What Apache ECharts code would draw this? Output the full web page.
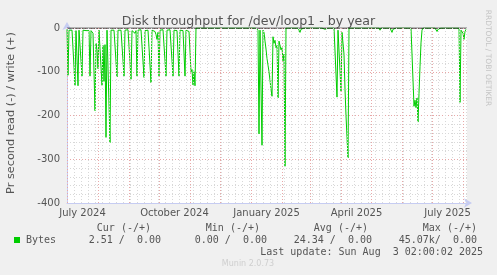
<!DOCTYPE html>
<html>
<head>
<meta charset="utf-8">
<script src="https://cdn.jsdelivr.net/npm/echarts@6/dist/echarts.min.js"></script>
<style>
html,body{margin:0;padding:0;background:#f0f0f0;}
#c{width:497px;height:275px;}
</style>
</head>
<body>
<div id="c"></div>
<script>
// ---- data (daily "read" bytes/s, negative side; write side is 0) ----
const readJunNov2024 = [
  -3,-108,-5,-4,-5,-5,-5,-6,-131,-6,
  -5,-132,-5,-4,-5,-110,-5,-4,-5,-6,
  -5,-6,-6,-110,-6,-5,-12,-8,-189,-35,
  -50,-93,-5,-4,-5,-131,-40,-122,-38,-250,
  -5,-4,-5,-262,-5,-4,-4,-5,-5,-6,
  -112,-5,-4,-5,-5,-6,-5,-110,-5,-4,
  -5,-4,-5,-8,-117,-6,-5,-6,-12,-6,
  -110,-5,-4,-5,-4,-5,-6,-113,-6,-5,
  -4,-5,-4,-6,-125,-5,-5,-4,-8,-15,
  -26,-10,-110,-5,-4,-5,-4,-5,-6,-110,
  -5,-4,-5,-4,-5,-6,-110,-5,-4,-5,
  -6,-5,-110,-5,-4,-5,-6,-5,-110,-5,
  -4,-6,-8,-10,-100,-95,-130,-100,-132,0
];
const readNovJan2025 = [
  0,0,0,0,0,0,0,0,0,0,
  0,0,0,0,0,0,0,0,0,0,
  0,0,0,0,0,0,0,0,0,0,
  0,0,0,0,0,0,0,0,0,0,
  0,0,0,0,0,0,0,0,0,0,
  0,0,0,0,0,0,0,0,0,0
];
const readJanFeb2025 = [
  0,-5,-242,-5,-5,-268,-5,-10,-30,-48,
  -70,-85,-100,-120,-140,-156,-20,-35,-28,-45,
  -40,-160,-30,-28,-50,-45,-75,-60,-316,0,
  0,0,0,0
];
const readFebMar2025 = [
  0,0,0,0,0,0,0,0,-3,-10,
  -3,0,0,0,0,0,0,0,0,0,
  0,0,0,0,0,0,0,0,0,0,
  0,0,0,0,-3,0,0,0,0,-3,
  0,0,0,0,0
];
const readMar2025 = [0,-158,-5,-5,-8,-145,-10,-12,-60,-140,-200,-250,-297,0];
const readMarMay2025 = [
  0,0,0,0,0,0,0,0,0,0,
  0,0,0,0,0,0,0,0,0,0,
  0,0,0,0,0,0,0,0,0,0,
  -5,0,0,0,0,0,0,0,0,0,
  0,-3,-10,-3,0,0,0,0,0,0,
  0,0,0,0,0,0,0,0,0,0,
  0,0,0
];
const readMay2025 = [0,-179,-165,-182,-160,-215,-150,-88,-34,-5,0];
const readJunJul2025 = [
  0,0,0,0,0,0,0,0,0,0,
  0,0,-3,-8,-3,0,0,0,0,0,
  0,0,0,0,0,0,0,0,0,0,
  0,0,0,0,0
];
const readJulAug2025 = [0,-170,-5,-3,-12,-26,-8,-3];

const xLabelTexts = ['July 2024','October 2024','January 2025','April 2025','July 2025'];
const xLabelDays  = ['2024-07-16','2024-10-16','2025-01-16','2025-04-16','2025-07-16'];
const yTicks = [0,-100,-200,-300,-400];

const legendHead = ['Cur (-/+)','Min (-/+)','Avg (-/+)','Max (-/+)'];
const legendVals = ['2.51 /  0.00','0.00 /  0.00','24.34 /  0.00','45.07k/  0.00'];

// ---- build ----
const DAY = 86400000;
const tMin = Date.UTC(2024,5,30,12,0,0);
const tMax = tMin + 400*DAY;
const readAll = [].concat(readJunNov2024, readNovJan2025, readJanFeb2025, readFebMar2025,
  readMar2025, readMarMay2025, readMay2025, readJunJul2025, readJulAug2025);
const readData = readAll.map((v,i)=>[tMin + i*DAY, v]);

const labelTimes = xLabelDays.map(d=>Date.parse(d+'T00:00:00Z'));

// grid lines: weekly (Mondays) minor, monthly major
const weekLines = [];
for (let t = Date.UTC(2024,6,1); t < tMax; t += 7*DAY) weekLines.push({xAxis: t});
const monthLines = [];
for (let m = 0; ; m++) {
  const t = Date.UTC(2024, 6 + m, 1);
  if (t > tMax) break;
  monthLines.push({xAxis: t});
}

const chart = echarts.init(document.getElementById('c'), null, {renderer:'canvas'});
const FONT = 'DejaVu Sans';
const AXIS = '#c6ccf2';

const graphics = [
  {type:'text', x:11, y:113, rotation:Math.PI/2,
   style:{text:'Pr second read (-) / write (+)', fill:'#555', font:'11.3px "DejaVu Sans"', textAlign:'center', textVerticalAlign:'middle'}},
  {type:'text', x:488, y:58, rotation:-Math.PI/2,
   style:{text:'RRDTOOL / TOBI OETIKER', fill:'#c4c4c4', font:'7.5px "DejaVu Sans"', textAlign:'center', textVerticalAlign:'middle'}},
  {type:'rect', shape:{x:14, y:237, width:6, height:6}, style:{fill:'#00cc00'}},
  {type:'text', x:26, y:240, style:{text:'Bytes', fill:'#555', font:'10px "DejaVu Sans Mono"', textAlign:'left', textVerticalAlign:'middle'}},
  {type:'text', x:483, y:252, style:{text:'Last update: Sun Aug  3 02:00:02 2025', fill:'#555', font:'10px "DejaVu Sans Mono"', textAlign:'right', textVerticalAlign:'middle'}},
  {type:'text', x:248, y:264, style:{text:'Munin 2.0.73', fill:'#cfcfcf', font:'8px "DejaVu Sans"', textAlign:'center', textVerticalAlign:'middle'}}
];
const headRight = [151,260,368,477];
const valRight = [161,267,372,477];
legendHead.forEach((s,i)=>graphics.push({type:'text', x:headRight[i], y:228,
  style:{text:s, fill:'#555', font:'10px "DejaVu Sans Mono"', textAlign:'right', textVerticalAlign:'middle'}}));
legendVals.forEach((s,i)=>graphics.push({type:'text', x:valRight[i], y:240,
  style:{text:s, fill:'#555', font:'10px "DejaVu Sans Mono"', textAlign:'right', textVerticalAlign:'middle'}}));

chart.setOption({
  animation:false,
  backgroundColor:'#f0f0f0',
  title:{text:'Disk throughput for /dev/loop1 - by year', left:'center', top:10,
    textStyle:{fontFamily:FONT, fontSize:12.6, fontWeight:'normal', color:'#555'}},
  grid:{left:67, width:400, top:28, height:175, show:true, backgroundColor:'#ffffff', borderWidth:0},
  xAxis:{
    type:'value', min:tMin, max:tMax, scale:true,
    axisLine:{show:true, onZero:false, lineStyle:{color:AXIS, width:1}, symbol:['none','arrow'], symbolSize:[7,8], symbolOffset:[0,5]},
    axisTick:{show:false},
    splitLine:{show:false},
    axisLabel:{customValues:labelTimes, color:'#555', fontFamily:FONT, fontSize:10, margin:5,
      formatter:function(v){
        let best=0, bd=Infinity;
        labelTimes.forEach((t,i)=>{const d=Math.abs(t-v); if(d<bd){bd=d;best=i;}});
        return xLabelTexts[best];
      }}
  },
  yAxis:{
    type:'value', min:-400, max:0, interval:100,
    axisLine:{show:true, lineStyle:{color:AXIS, width:1}, symbol:['none','arrow'], symbolSize:[7,8], symbolOffset:[0,6]},
    axisTick:{show:false},
    axisLabel:{color:'#555', fontFamily:FONT, fontSize:10, margin:7,
      formatter:function(v){ return yTicks.indexOf(v) >= 0 ? String(v) : ''; }},
    splitLine:{show:true, lineStyle:{color:'#e8a8a8', type:[1,2], width:1}},
    minorTick:{show:false, splitNumber:5},
    minorSplitLine:{show:true, lineStyle:{color:'#d8d8d8', type:[1,2], width:1}}
  },
  series:[
    {type:'line', name:'weekgrid', data:[], silent:true, z:1,
      markLine:{silent:true, symbol:['none','none'], label:{show:false}, animation:false,
        lineStyle:{color:'#d8d8d8', type:[1,2], width:1}, emphasis:{disabled:true}, data:weekLines}},
    {type:'line', name:'monthgrid', data:[], silent:true, z:1,
      markLine:{silent:true, symbol:['none','none'], label:{show:false}, animation:false,
        lineStyle:{color:'#e8a8a8', type:[1,2], width:1}, emphasis:{disabled:true}, data:monthLines}},
    {type:'line', name:'Bytes', data:readData, showSymbol:false, z:3,
      lineStyle:{color:'#00cc00', width:1}, itemStyle:{color:'#00cc00'}},
    {type:'line', name:'zero', data:[[tMin,0],[tMax,0]], showSymbol:false, z:4, silent:true,
      lineStyle:{color:'#000000', width:1}}
  ],
  graphic:graphics
});
</script>
</body>
</html>
